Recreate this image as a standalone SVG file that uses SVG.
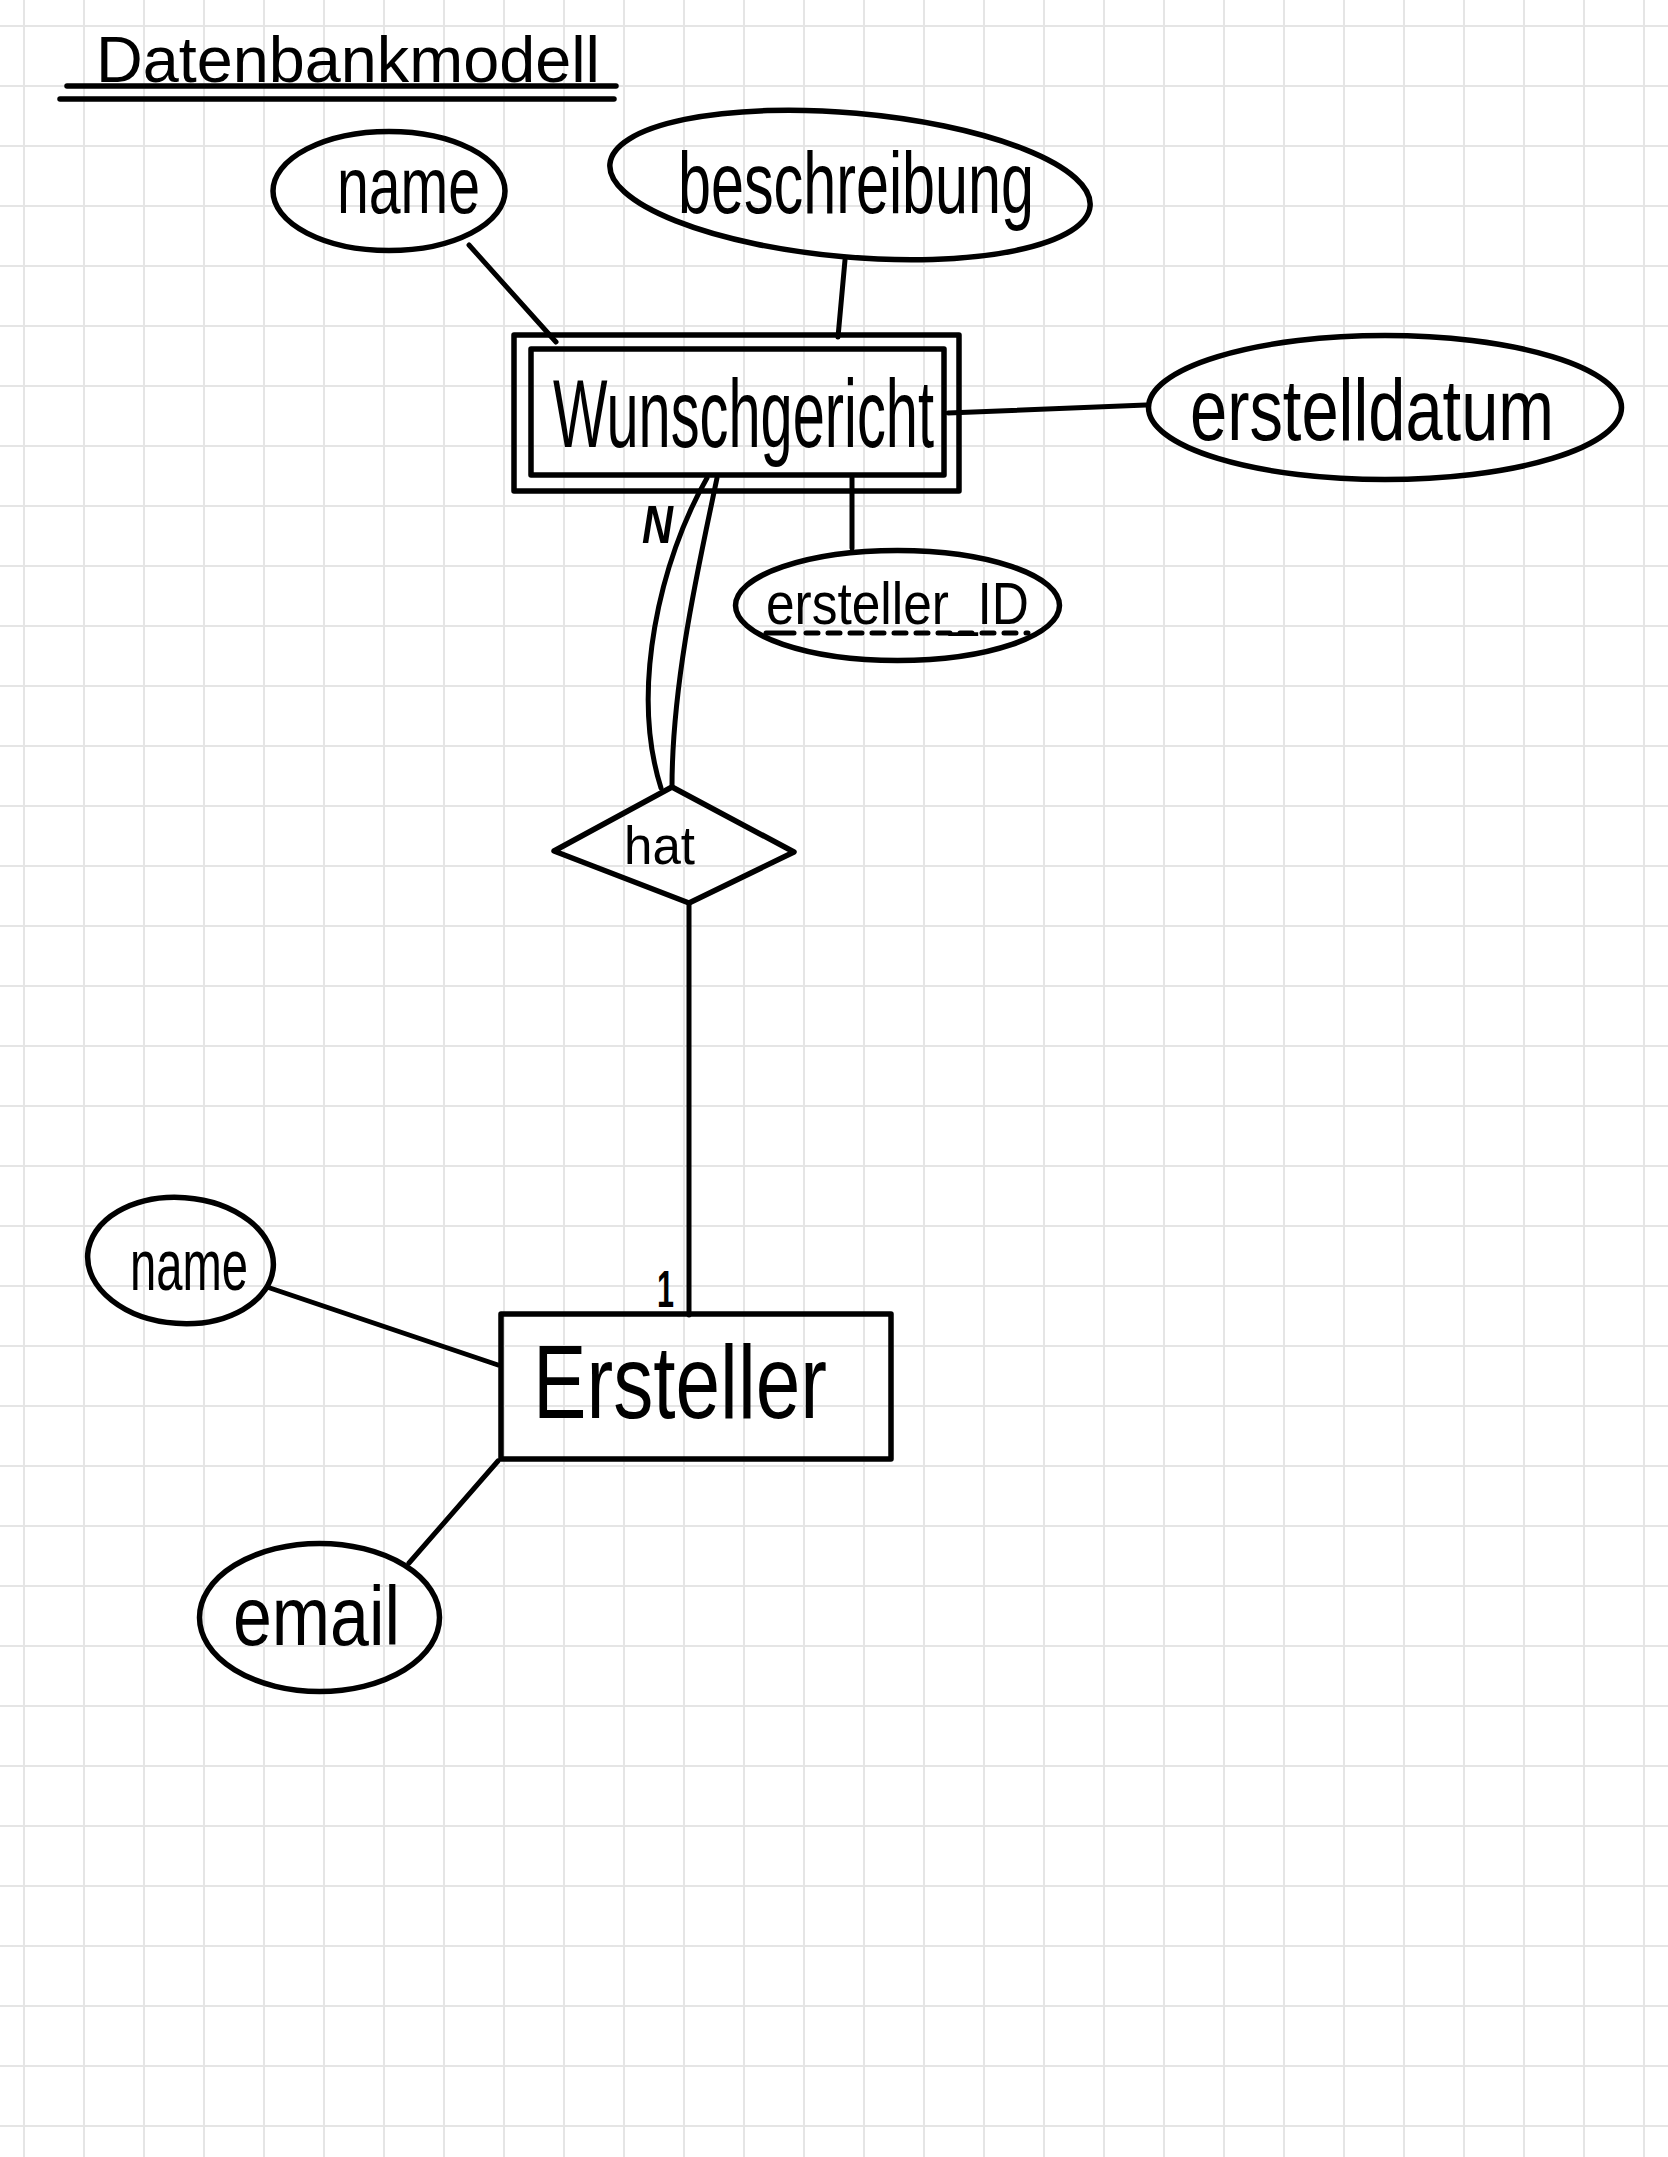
<svg xmlns="http://www.w3.org/2000/svg" width="1668" height="2157" viewBox="0 0 1668 2157">
  <style>
    .stroke { fill: none; stroke: #000; stroke-width: 5.5; stroke-linecap: round; stroke-linejoin: round; }
    .conn { fill: none; stroke: #000; stroke-width: 5; stroke-linecap: round; stroke-linejoin: round; }
    .hand { font-family: "Liberation Sans", "DejaVu Sans", sans-serif; fill: #000; }
  </style>
  <defs>
    <pattern id="grid" patternUnits="userSpaceOnUse" x="23" y="25" width="60" height="60">
      <rect x="0" y="0" width="2" height="60" fill="#e5e5e5"/>
      <rect x="0" y="0" width="60" height="2" fill="#e5e5e5"/>
    </pattern>
  </defs>

  <rect width="1668" height="2157" fill="#ffffff"/>
  <rect width="1668" height="2157" fill="url(#grid)"/>

  <g id="title">
    <text class="hand" x="96" y="82" font-size="64" textLength="504" lengthAdjust="spacingAndGlyphs">Datenbankmodell</text>
    <line class="stroke" x1="67" y1="86" x2="616" y2="86"/>
    <line class="stroke" x1="60" y1="99" x2="614" y2="99" stroke-width="6"/>
  </g>

  <g id="connectors">
    <line class="conn" x1="469" y1="245" x2="556" y2="342"/>
    <line class="conn" x1="845" y1="260" x2="838" y2="337"/>
    <line class="conn" x1="948" y1="413" x2="1146" y2="405"/>
    <line class="conn" x1="852" y1="478" x2="852" y2="548"/>
    <path class="conn" d="M707,478 C660,560 630,690 661,788"/>
    <path class="conn" d="M717,478 C700,560 672,680 672,787"/>
    <line class="conn" x1="689" y1="903" x2="689" y2="1315"/>
    <line class="conn" x1="270" y1="1288" x2="498" y2="1365"/>
    <line class="conn" x1="498" y1="1461" x2="409" y2="1563"/>
    <text class="hand" x="642" y="543" font-size="54" font-style="italic" font-weight="bold" textLength="31" lengthAdjust="spacingAndGlyphs">N</text>
    <text class="hand" x="657" y="1307" font-size="52" font-weight="bold" textLength="17" lengthAdjust="spacingAndGlyphs">1</text>
  </g>

  <g id="node-wunschgericht">
    <rect class="stroke" x="514" y="335" width="445" height="156"/>
    <rect class="stroke" x="531" y="349" width="413" height="126"/>
    <text class="hand" x="553" y="447" font-size="96" textLength="381" lengthAdjust="spacingAndGlyphs">Wunschgericht</text>
  </g>

  <g id="attr-name-1">
    <ellipse class="stroke" cx="389" cy="191" rx="116" ry="59.5"/>
    <text class="hand" x="337" y="213" font-size="80" textLength="143" lengthAdjust="spacingAndGlyphs">name</text>
  </g>

  <g id="attr-beschreibung">
    <ellipse class="stroke" cx="850" cy="185" rx="241" ry="72" transform="rotate(5 850 185)"/>
    <text class="hand" x="678" y="213" font-size="88" textLength="356" lengthAdjust="spacingAndGlyphs">beschreibung</text>
  </g>

  <g id="attr-erstelldatum">
    <ellipse class="stroke" cx="1385" cy="407.5" rx="236.5" ry="72"/>
    <text class="hand" x="1190" y="440" font-size="88" textLength="364" lengthAdjust="spacingAndGlyphs">erstelldatum</text>
  </g>

  <g id="attr-ersteller-id">
    <ellipse class="stroke" cx="897.5" cy="605.5" rx="162" ry="55"/>
    <text class="hand" x="766" y="624" font-size="60" textLength="263" lengthAdjust="spacingAndGlyphs">ersteller_ID</text>
    <line class="conn" x1="766" y1="633" x2="794" y2="633" stroke-width="4"/>
    <line class="conn" x1="806" y1="633" x2="1028" y2="633" stroke-dasharray="12 10" stroke-width="4"/>
  </g>

  <g id="rel-hat">
    <polygon class="stroke" points="672,787 794,852 689,903 554,851"/>
    <text class="hand" x="624" y="864" font-size="54" textLength="71" lengthAdjust="spacingAndGlyphs">hat</text>
  </g>

  <g id="node-ersteller">
    <rect class="stroke" x="501" y="1314" width="390" height="145"/>
    <text class="hand" x="533" y="1418" font-size="104" textLength="294" lengthAdjust="spacingAndGlyphs">Ersteller</text>
  </g>

  <g id="attr-name-2">
    <ellipse class="stroke" cx="180.5" cy="1260.5" rx="93" ry="63" transform="rotate(4 180.5 1260.5)"/>
    <text class="hand" x="130" y="1290" font-size="72" textLength="118" lengthAdjust="spacingAndGlyphs">name</text>
  </g>

  <g id="attr-email">
    <ellipse class="stroke" cx="319.5" cy="1617.5" rx="120" ry="74"/>
    <text class="hand" x="233" y="1645" font-size="84" textLength="167" lengthAdjust="spacingAndGlyphs">email</text>
  </g>
</svg>
